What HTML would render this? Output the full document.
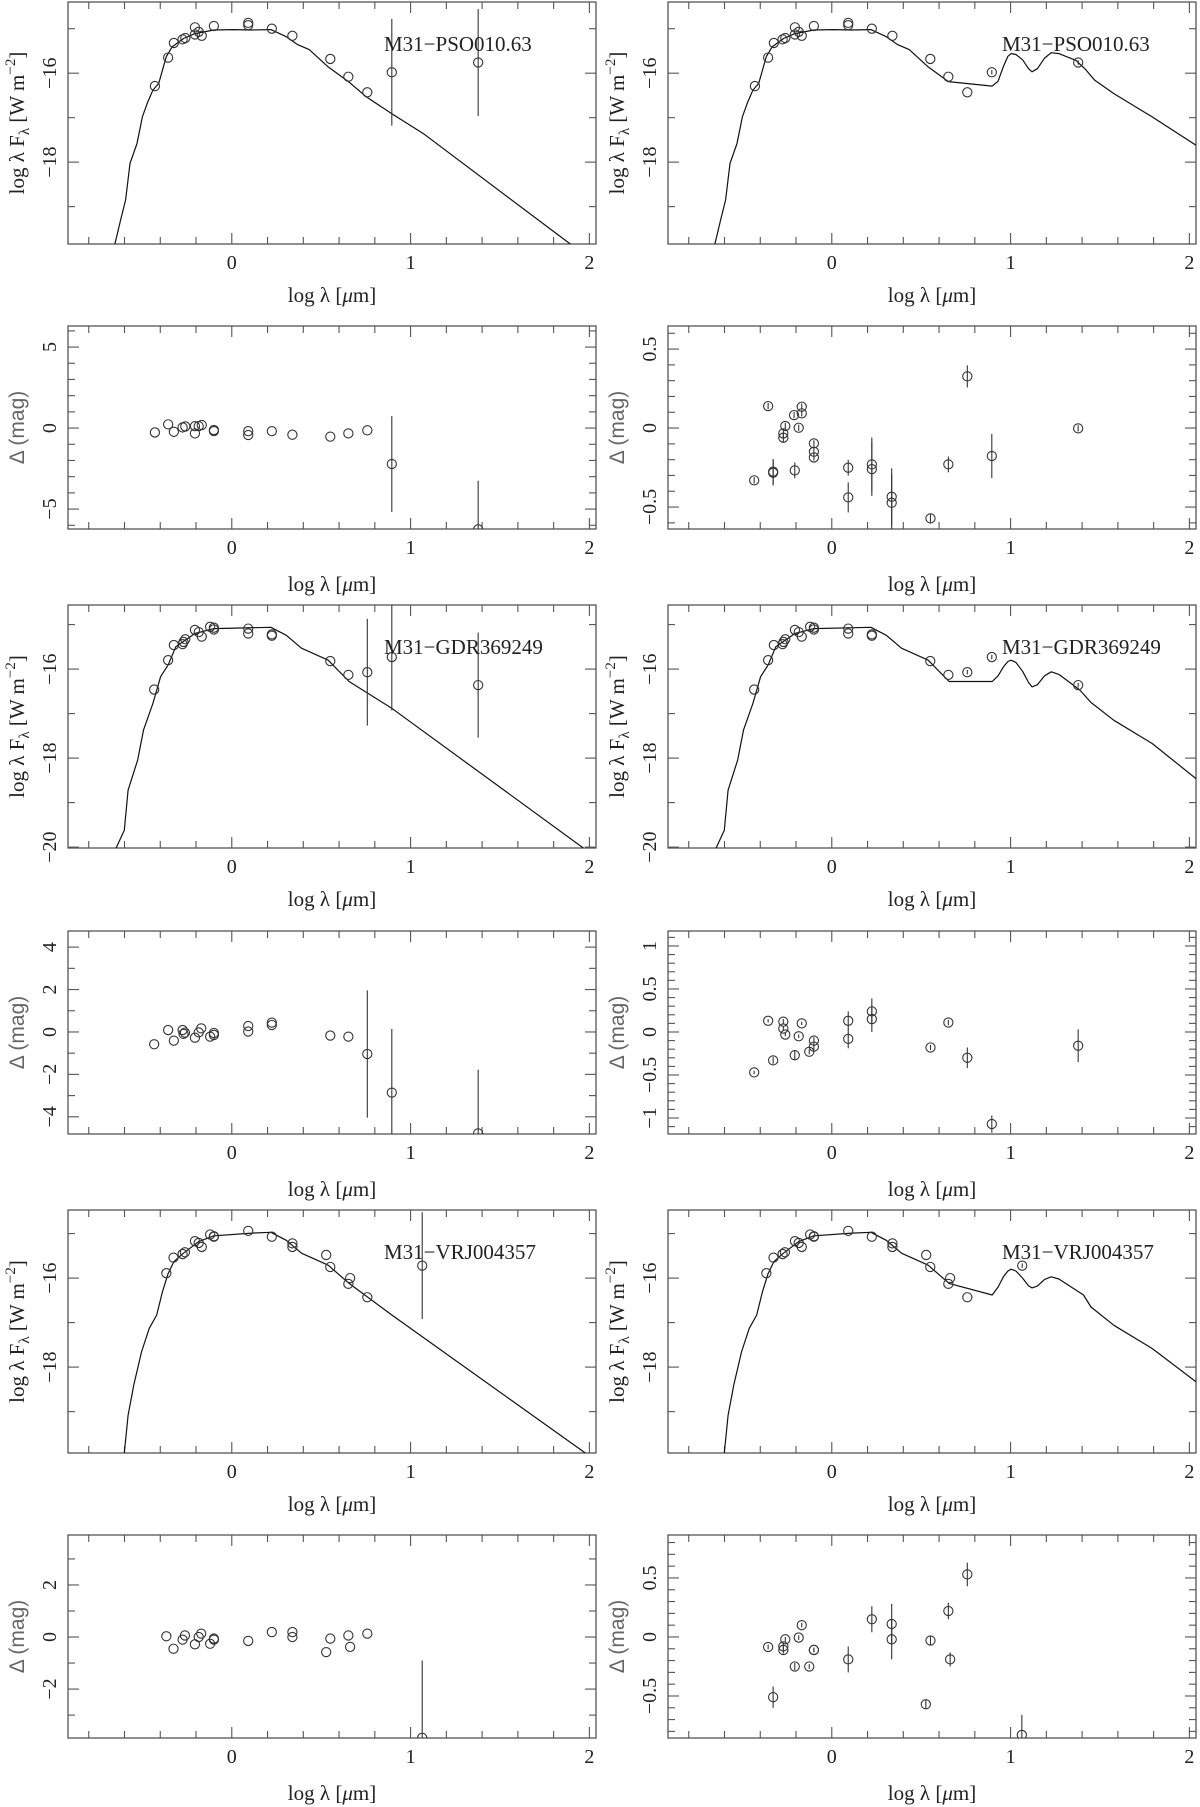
<!DOCTYPE html>
<html><head><meta charset="utf-8"><style>
html,body{margin:0;padding:0;background:#fff;}
svg{display:block;}
text{font-family:"Liberation Serif",serif;fill:#222;}
</style></head><body>
<svg id="fig" width="1200" height="1807" viewBox="0 0 1200 1807" xmlns="http://www.w3.org/2000/svg"></svg>
<script>
// ===== Model curves (log lambda, log lambda F_lambda) =====
const star1X=[-0.654,-0.622,-0.594,-0.569,-0.530,-0.500,-0.473,-0.441,-0.409,-0.366,-0.334,-0.270,-0.206,-0.100,0.006,0.113,0.219,0.305,0.369,0.433,0.539,0.652];
const star1Y=[-19.85,-19.30,-18.85,-18.03,-17.58,-16.98,-16.68,-16.38,-16.23,-15.63,-15.41,-15.22,-15.11,-15.03,-15.02,-15.03,-15.02,-15.18,-15.36,-15.47,-15.86,-16.19];
const tail1X=[0.752,0.895,1.072,1.896];
const tail1Y=[-16.53,-16.91,-17.36,-19.85];
const dust1X=[0.897,0.93,0.96,0.985,1.003,1.03,1.067,1.10,1.12,1.15,1.19,1.227,1.27,1.32,1.365,1.42,1.471,1.578,1.791,2.037];
const dust1Y=[-16.29,-16.18,-15.85,-15.62,-15.56,-15.58,-15.70,-15.90,-15.97,-15.90,-15.66,-15.54,-15.56,-15.64,-15.71,-15.92,-16.16,-16.46,-16.98,-17.62];

const star2X=[-0.647,-0.601,-0.580,-0.526,-0.494,-0.441,-0.398,-0.356,-0.313,-0.206,-0.100,0.219,0.305,0.390,0.539,0.656];
const star2Y=[-20.02,-19.62,-18.72,-18.04,-17.37,-16.77,-16.17,-15.91,-15.50,-15.20,-15.09,-15.06,-15.24,-15.53,-15.80,-16.28];
const tail2X=[0.895,1.966];
const tail2Y=[-16.88,-20.02];
const dust2X=[0.897,0.93,0.96,0.985,1.003,1.03,1.067,1.10,1.12,1.15,1.19,1.227,1.27,1.387,1.45,1.578,1.791,2.037];
const dust2Y=[-16.28,-16.15,-15.95,-15.83,-15.80,-15.85,-16.05,-16.30,-16.40,-16.35,-16.15,-16.06,-16.12,-16.47,-16.75,-17.15,-17.67,-18.46];

const star3X=[-0.601,-0.580,-0.548,-0.505,-0.462,-0.420,-0.388,-0.356,-0.324,-0.270,-0.185,-0.100,0.113,0.219,0.305,0.390,0.539,0.656];
const star3Y=[-19.93,-19.08,-18.40,-17.66,-17.13,-16.83,-16.31,-15.90,-15.63,-15.44,-15.18,-15.05,-14.99,-14.97,-15.15,-15.44,-15.71,-16.12];
const tail3X=[0.895,1.977];
const tail3Y=[-16.83,-19.93];
const dust3X=[0.897,0.93,0.96,0.985,1.003,1.03,1.067,1.10,1.12,1.15,1.19,1.227,1.27,1.408,1.45,1.578,1.791,2.037];
const dust3Y=[-16.38,-16.20,-15.97,-15.84,-15.80,-15.84,-16.00,-16.17,-16.22,-16.18,-16.03,-15.97,-16.02,-16.38,-16.65,-17.06,-17.58,-18.33];

// ===== Photometry =====
const sed1X=[-0.430,-0.356,-0.324,-0.275,-0.260,-0.206,-0.206,-0.185,-0.168,-0.100,0.092,0.092,0.224,0.339,0.551,0.652,0.758,0.895,1.378];
const sed1Y=[-16.29,-15.65,-15.32,-15.24,-15.21,-14.97,-15.13,-15.07,-15.16,-14.94,-14.87,-14.92,-15.00,-15.16,-15.68,-16.08,-16.43,-15.98,-15.76];
const sed1E=[0,0,0,0,0,0,0,0,0,0,0,0,0,0,0,0,0,1.2,1.2];

const sed2X=[-0.434,-0.356,-0.324,-0.275,-0.270,-0.260,-0.206,-0.185,-0.168,-0.121,-0.100,-0.100,0.092,0.092,0.224,0.224,0.551,0.652,0.758,0.895,1.378];
const sed2Y=[-16.46,-15.80,-15.46,-15.44,-15.39,-15.33,-15.12,-15.17,-15.27,-15.05,-15.07,-15.11,-15.09,-15.20,-15.22,-15.25,-15.82,-16.13,-16.07,-15.73,-16.36];
const sed2E=[0,0,0,0,0,0,0,0,0,0,0,0,0,0,0,0,0,0,1.2,1.2,1.18];

const sed3X=[-0.366,-0.326,-0.275,-0.262,-0.206,-0.185,-0.168,-0.121,-0.100,-0.100,0.092,0.224,0.339,0.339,0.528,0.551,0.652,0.662,0.758,1.065];
const sed3Y=[-15.89,-15.54,-15.46,-15.42,-15.17,-15.21,-15.30,-15.02,-15.06,-15.07,-14.94,-15.07,-15.22,-15.30,-15.48,-15.75,-16.13,-16.00,-16.43,-15.72];
const sed3E=[0,0,0,0,0,0,0,0,0,0,0,0,0,0,0,0,0,0,0,1.2];

// residuals, left (stellar model)
const res1LX=[-0.430,-0.356,-0.324,-0.275,-0.260,-0.206,-0.206,-0.185,-0.168,-0.100,-0.100,0.092,0.092,0.224,0.339,0.551,0.652,0.758,0.895,1.378];
const res1LY=[-0.27,0.23,-0.23,0.04,0.10,0.12,-0.33,0.12,0.19,-0.12,-0.19,-0.19,-0.43,-0.19,-0.41,-0.53,-0.33,-0.14,-2.22,-6.25];
const res1LE=[0,0,0,0,0,0,0,0,0,0,0,0,0,0,0,0,0,0,2.96,3.0];
// residuals, right (dusty model)
const res1RX=[-0.434,-0.356,-0.328,-0.328,-0.271,-0.271,-0.260,-0.211,-0.207,-0.185,-0.168,-0.168,-0.100,-0.100,-0.100,0.092,0.092,0.224,0.224,0.335,0.335,0.552,0.652,0.758,0.895,1.378];
const res1RY=[-0.331,0.139,-0.276,-0.283,-0.034,-0.061,0.013,0.082,-0.268,0.002,0.135,0.093,-0.097,-0.150,-0.186,-0.251,-0.439,-0.230,-0.260,-0.435,-0.473,-0.572,-0.230,0.327,-0.177,-0.002];
const res1RE=[0.02,0.02,0.08,0.08,0.03,0.03,0.02,0.02,0.05,0.02,0.02,0.02,0.02,0.02,0.02,0.05,0.095,0.17,0.17,0.18,0.18,0.025,0.05,0.07,0.14,0.02];

const res2LX=[-0.434,-0.356,-0.324,-0.275,-0.262,-0.270,-0.206,-0.185,-0.171,-0.121,-0.100,-0.100,0.092,0.092,0.224,0.224,0.551,0.652,0.758,0.895,1.378];
const res2LY=[-0.58,0.09,-0.41,0.09,-0.03,-0.09,-0.27,-0.02,0.17,-0.22,-0.05,-0.14,0.28,0.02,0.44,0.33,-0.17,-0.22,-1.04,-2.86,-4.78];
const res2LE=[0,0,0,0,0,0,0,0,0,0,0,0,0,0,0,0,0,0,3.0,3.0,3.0];
const res2RX=[-0.434,-0.356,-0.328,-0.271,-0.271,-0.260,-0.207,-0.185,-0.168,-0.126,-0.100,-0.100,0.092,0.092,0.224,0.224,0.552,0.652,0.758,0.895,1.378];
const res2RY=[-0.47,0.13,-0.33,0.12,0.04,-0.03,-0.27,-0.05,0.10,-0.23,-0.17,-0.10,0.13,-0.08,0.24,0.15,-0.18,0.11,-0.30,-1.07,-0.16];
const res2RE=[0.02,0.02,0.04,0.03,0.03,0.02,0.06,0.02,0.02,0.03,0.04,0.04,0.11,0.11,0.15,0.15,0.03,0.03,0.12,0.1,0.19];

const res3LX=[-0.366,-0.326,-0.275,-0.262,-0.206,-0.185,-0.171,-0.121,-0.100,-0.100,0.092,0.224,0.339,0.339,0.528,0.551,0.652,0.662,0.758,1.065];
const res3LY=[0.03,-0.45,-0.10,0.06,-0.28,0.00,0.13,-0.26,-0.10,-0.06,-0.15,0.19,0.19,0.00,-0.58,-0.06,0.06,-0.38,0.13,-3.87];
const res3LE=[0,0,0,0,0,0,0,0,0,0,0,0,0,0,0,0,0,0,0,2.97];
const res3RX=[-0.356,-0.328,-0.271,-0.271,-0.260,-0.207,-0.185,-0.168,-0.126,-0.100,-0.100,0.092,0.224,0.335,0.335,0.526,0.552,0.652,0.662,0.758,1.063];
const res3RY=[-0.085,-0.51,-0.08,-0.11,-0.02,-0.25,-0.005,0.10,-0.25,-0.11,-0.11,-0.19,0.15,0.11,-0.02,-0.57,-0.03,0.22,-0.19,0.53,-0.83];
const res3RE=[0.02,0.09,0.03,0.03,0.02,0.03,0.02,0.02,0.02,0.02,0.02,0.11,0.11,0.17,0.17,0.04,0.04,0.07,0.06,0.10,0.17];

const starNames=["M31\u2212PSO010.63","M31\u2212GDR369249","M31\u2212VRJ004357"];

// ===== rendering =====
const NS="http://www.w3.org/2000/svg";
const svg=document.getElementById('fig');
const XMIN=-0.916, XMAX=2.037, PW=528;
function mk(tag,attrs,parent){const e=document.createElementNS(NS,tag);for(const k in attrs)e.setAttribute(k,attrs[k]);(parent||svg).appendChild(e);return e;}

function panel(o){
  const g=mk('g',{});
  
  
  const L=o.L,T=o.T,W=PW,H=o.B-o.T;
  const sx=x=>L+(x-XMIN)/(XMAX-XMIN)*W;
  const sy=y=>T+(o.ymax-y)/(o.ymax-o.ymin)*H;
  const clip='c'+o.name;
  const cp=mk('clipPath',{id:clip},g);mk('rect',{x:L,y:T,width:W,height:H},cp);
  const fr=mk('rect',{x:L,y:T,width:W,height:H,fill:'none',stroke:'#555','stroke-width':1.3},g);
  
  
  for(let i=-4;i<=10;i++){const v=i*0.2;if(v<XMIN||v>XMAX)continue;const major=(i%5===0);const len=major?11:7;const X=sx(v);
    mk('line',{x1:X,y1:o.B,x2:X,y2:o.B-len,stroke:'#555','stroke-width':1.1},g);
    mk('line',{x1:X,y1:T,x2:X,y2:T+len,stroke:'#555','stroke-width':1.1},g);
    if(major){const t=mk('text',{x:X,y:o.B+25,'text-anchor':'middle','font-size':20},g);t.textContent=String(Math.round(v));
      
      }
  }
  const st=o.ystep;const n0=Math.ceil(o.ymin/st-1e-6),n1=Math.floor(o.ymax/st+1e-6);
  for(let i=n0;i<=n1;i++){const v=i*st;const Y=sy(v);const major=o.labels.some(l=>Math.abs(l-v)<1e-6);const len=major?11:7;
    mk('line',{x1:L,y1:Y,x2:L+len,y2:Y,stroke:'#555','stroke-width':1.1},g);
    mk('line',{x1:L+W,y1:Y,x2:L+W-len,y2:Y,stroke:'#555','stroke-width':1.1},g);}
  o.labels.forEach(v=>{const Y=sy(v);const tx=L-12;
    const t=mk('text',{x:tx,y:Y,'text-anchor':'middle','font-size':20,transform:`rotate(-90 ${tx} ${Y})`},g);
    t.textContent=(v<0?'\u2212':'')+String(Math.abs(v));
    
    });
  const xt=mk('text',{x:L+W/2,y:o.B+(o.sed?58:62),'text-anchor':'middle','font-size':21},g);
  xt.innerHTML='log &#955; [<tspan font-style="italic">&#956;</tspan>m]';
  
  
  const yc=T+H/2, yx=L-44;
  const yt=mk('text',{x:yx,y:yc,'text-anchor':'middle','font-size':21,transform:`rotate(-90 ${yx} ${yc})`},g);
  if(o.sed){yt.innerHTML='log &#955; F<tspan font-size="15" dy="5">&#955;</tspan><tspan dy="-5"> [W m</tspan><tspan font-size="15" dy="-9">&#8722;2</tspan><tspan dy="9">]</tspan>';}
  else{yt.setAttribute('style','font-family:"Liberation Sans",sans-serif;fill:#666');yt.textContent='\u0394 (mag)';}
  
  
  const pg=mk('g',{'clip-path':`url(#${clip})`},g);
  if(o.mx){let d='';o.mx.forEach((x,i)=>{d+=(i?'L':'M')+sx(x).toFixed(1)+','+sy(o.my[i]).toFixed(1);});
    const p=mk('path',{d:d,fill:'none',stroke:'#111','stroke-width':1.2,'stroke-linejoin':'round'},pg);
    
    }
  o.px.forEach((x,i)=>{const X=sx(x),Y=sy(o.py[i]);const e=o.pe[i];
    if(e>0){const l=mk('line',{x1:X,y1:sy(o.py[i]+e),x2:X,y2:sy(o.py[i]-e),stroke:'#333','stroke-width':1.1},pg);
      
      }
    const c=mk('circle',{cx:X,cy:Y,r:4.6,fill:'none',stroke:'#333','stroke-width':1.1},pg);
    
    });
  if(o.star){const t=mk('text',{x:o.L+(o.right?334:316),y:T+49,'font-size':21},g);t.textContent=o.star;
    
    }
}
const Lx=68,Rx=668;
const sedRows=[{T:2,B:244,ymin:-19.84,ymax:-14.40,labels:[-16,-18]},{T:605,B:848,ymin:-20.02,ymax:-14.56,labels:[-16,-18,-20]},{T:1210,B:1453,ymin:-19.93,ymax:-14.47,labels:[-16,-18]}];
const stars=[[star1X,star1Y,tail1X,tail1Y,dust1X,dust1Y,sed1X,sed1Y,sed1E],[star2X,star2Y,tail2X,tail2Y,dust2X,dust2Y,sed2X,sed2Y,sed2E],[star3X,star3Y,tail3X,tail3Y,dust3X,dust3Y,sed3X,sed3Y,sed3E]];
stars.forEach((s,r)=>{const R=sedRows[r];
  panel({name:'sed-panel-left-'+(r+1),L:Lx,T:R.T,B:R.B,ymin:R.ymin,ymax:R.ymax,ystep:1,labels:R.labels,sed:true,mx:s[0].concat(s[2]),my:s[1].concat(s[3]),px:s[6],py:s[7],pe:s[8],star:starNames[r]});
  panel({name:'sed-panel-right-'+(r+1),L:Rx,T:R.T,B:R.B,ymin:R.ymin,ymax:R.ymax,ystep:1,labels:R.labels,sed:true,right:true,mx:s[0].concat(s[4]),my:s[1].concat(s[5]),px:s[6],py:s[7],pe:s[8].map(e=>e?0.05:0),star:starNames[r]});
});
panel({name:'residual-panel-left-1',L:Lx,T:326,B:529,ymin:-6.23,ymax:6.30,ystep:1,labels:[-5,0,5],px:res1LX,py:res1LY,pe:res1LE});
panel({name:'residual-panel-right-1',L:Rx,T:326,B:529,ymin:-0.639,ymax:0.646,ystep:0.1,labels:[-0.5,0,0.5],px:res1RX,py:res1RY,pe:res1RE});
panel({name:'residual-panel-left-2',L:Lx,T:931,B:1134,ymin:-4.81,ymax:4.76,ystep:1,labels:[-4,-2,0,2,4],px:res2LX,py:res2LY,pe:res2LE});
panel({name:'residual-panel-right-2',L:Rx,T:931,B:1134,ymin:-1.186,ymax:1.174,ystep:0.1,labels:[-1,-0.5,0,0.5,1],px:res2RX,py:res2RY,pe:res2RE});
panel({name:'residual-panel-left-3',L:Lx,T:1535,B:1738,ymin:-3.88,ymax:3.92,ystep:1,labels:[-2,0,2],px:res3LX,py:res3LY,pe:res3LE});
panel({name:'residual-panel-right-3',L:Rx,T:1535,B:1738,ymin:-0.856,ymax:0.864,ystep:0.1,labels:[-0.5,0,0.5],px:res3RX,py:res3RY,pe:res3RE});
</script>
</body></html>
